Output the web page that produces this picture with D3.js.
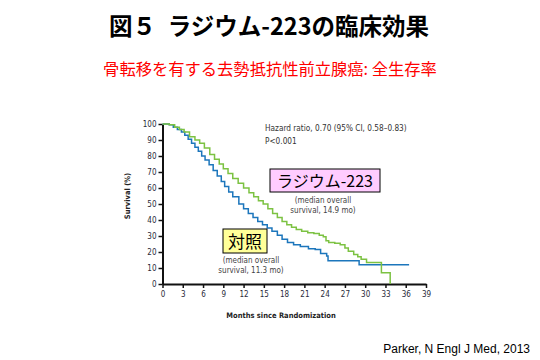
<!DOCTYPE html>
<html><head><meta charset="utf-8">
<script src="https://cdn.jsdelivr.net/npm/d3@7"></script>
<style>body{margin:0;background:#fff}svg{display:block}</style>
</head><body>
<script>
const title = "図５\u2002ラジウム-223の臨床効果";
const subtitle = "骨転移を有する去勢抵抗性前立腺癌: 全生存率";
const citation = "Parker, N Engl J Med, 2013";
const xTicks = [0,3,6,9,12,15,18,21,24,27,30,33,36,39];
const yTicks = [0,10,20,30,40,50,60,70,80,90,100];
const seriesNames = ["ラジウム-223", "対照"];
const radiumMonths = [0,1.0,1.8,2.5,3.2,4.0,4.8,5.5,6.2,7.0,7.7,8.4,9.0,9.7,10.4,11.2,12.0,12.8,13.5,14.2,14.9,15.6,16.3,17.0,17.7,18.4,19.1,19.8,20.6,21.5,22.4,23.2,23.8,24.2,24.6,25.5,26.3,27.0,27.5,28.3,28.9,29.4,30.2,32.4,33.7];
const radiumSurv   = [100,99.5,98,96.5,95,92,90,88,85,81,78,75,72,69,66,63,60,57,54.5,52,50,47,44,41.5,39,37,35.5,34,33,32,31.5,30.5,29.5,27,26,25.5,24.5,22.5,20.5,18.5,17,15.5,13.5,7,0];
const placeboMonths = [0,1.0,1.6,2.2,2.8,3.3,3.8,4.3,4.8,5.3,5.8,6.3,6.9,7.5,8.1,8.7,9.2,9.8,10.4,11.3,12.0,12.7,13.4,14.1,14.8,15.5,16.2,17.0,17.7,18.5,19.4,20.4,21.6,22.6,23.4,24.3,24.5,29.1,36.5];
const placeboSurv   = [100,99.5,98,96.5,95,93,90.5,88,85.5,83,80,77.5,74.5,71,67.5,64,61,57.5,54.5,50,47,44,41.5,39,37,35,33,30.5,28,26,24.5,23.5,22,21.5,19,17.5,14.5,12,12];
const hazardText = ["Hazard ratio, 0.70 (95% CI, 0.58–0.83)", "P<0.001"];
const medianRadium = ["(median overall", "survival, 14.9 mo)"];
const medianPlacebo = ["(median overall", "survival, 11.3 mo)"];

const W = 540, H = 360;
const svg = d3.select("body").append("svg").attr("width", W).attr("height", H);
const x = d3.scaleLinear().domain([0,39]).range([162.5, 426]);
const y = d3.scaleLinear().domain([0,100]).range([284, 124]);

const cjk = "'Noto Sans CJK JP', 'Noto Sans', sans-serif";
const small = "'DejaVu Sans Condensed', 'DejaVu Sans', sans-serif";

svg.append("text").attr("x", 269).attr("y", 35).attr("text-anchor","middle")
  .attr("font-family", cjk).attr("font-weight","bold").attr("font-size", 23.5).attr("fill","#000").text(title);
svg.append("text").attr("x", 270).attr("y", 75).attr("text-anchor","middle")
  .attr("font-family", cjk).attr("font-size", 16.3).attr("fill","#ff0000").text(subtitle);

// axes
const gx = svg.append("g").attr("transform", `translate(0,${y(0)})`)
  .call(d3.axisBottom(x).tickValues(xTicks).tickSize(4).tickSizeOuter(0).tickPadding(3));
const gy = svg.append("g").attr("transform", `translate(${x(0)},0)`)
  .call(d3.axisLeft(y).tickValues(yTicks).tickSize(4).tickSizeOuter(0).tickPadding(2));
[gx, gy].forEach(g => {
  g.select(".domain").attr("stroke","#111").attr("stroke-width",2);
  g.selectAll(".tick line").attr("stroke","#111").attr("stroke-width",1.5);
  g.selectAll(".tick text").attr("font-family", small).attr("font-size", 8).attr("fill","#2a2a3a");
});

svg.append("text").attr("transform", "translate(130,196) rotate(-90)").attr("text-anchor","middle")
  .attr("font-family", small).attr("font-weight","bold").attr("font-size", 7.5).attr("fill","#222").text("Survival (%)");
svg.append("text").attr("x", 281).attr("y", 318).attr("text-anchor","middle")
  .attr("font-family", small).attr("font-weight","bold").attr("font-size", 7.5).attr("fill","#222").text("Months since Randomization");

// curves
const line = d3.line().x(d => x(d[0])).y(d => y(d[1])).curve(d3.curveStepAfter);
const rad = radiumMonths.map((m,i) => [m, radiumSurv[i]]);
const pla = placeboMonths.map((m,i) => [m, placeboSurv[i]]);
svg.append("path").datum(pla).attr("d", line).attr("fill","none").attr("stroke","#1c76bc").attr("stroke-width",1.5);
svg.append("path").datum(rad).attr("d", line).attr("fill","none").attr("stroke","#7cc242").attr("stroke-width",1.5);

// hazard text
hazardText.forEach((t,i) => svg.append("text").attr("x", 265).attr("y", 131 + i*13)
  .attr("font-family", small).attr("font-size", 8.2).attr("fill","#333").text(t));

// labels
svg.append("rect").attr("x", 270).attr("y", 169).attr("width", 110).attr("height", 23)
  .attr("fill","#ffccff").attr("stroke","#000").attr("stroke-width",1);
svg.append("text").attr("x", 325).attr("y", 187).attr("text-anchor","middle")
  .attr("font-family", cjk).attr("font-size", 16).attr("fill","#000").text(seriesNames[0]);
medianRadium.forEach((t,i) => svg.append("text").attr("x", 323).attr("y", 203 + i*10).attr("text-anchor","middle")
  .attr("font-family", small).attr("font-size", 8).attr("fill","#444").text(t));

svg.append("rect").attr("x", 223).attr("y", 229).attr("width", 44).attr("height", 24)
  .attr("fill","#ffff99").attr("stroke","#000").attr("stroke-width",1);
svg.append("text").attr("x", 245).attr("y", 248).attr("text-anchor","middle")
  .attr("font-family", cjk).attr("font-size", 17).attr("fill","#000").text(seriesNames[1]);
medianPlacebo.forEach((t,i) => svg.append("text").attr("x", 251).attr("y", 263 + i*10).attr("text-anchor","middle")
  .attr("font-family", small).attr("font-size", 8).attr("fill","#444").text(t));

svg.append("text").attr("x", 530).attr("y", 353).attr("text-anchor","end")
  .attr("font-family", "'Liberation Sans', Arial, sans-serif").attr("font-size", 12).attr("fill","#000").text(citation);
</script>
</body></html>
